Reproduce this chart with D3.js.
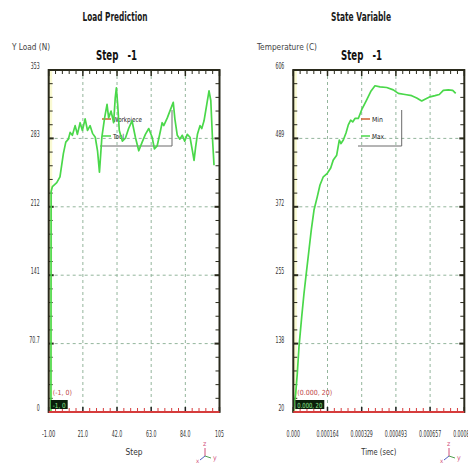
<!DOCTYPE html>
<html>
<head>
<meta charset="utf-8">
<script src="https://cdn.jsdelivr.net/npm/d3@7"></script>
<style>
  body { margin: 0; background: #fff; }
  text { font-family: "Liberation Sans Narrow", "DejaVu Sans Condensed", "Arial Narrow", "Liberation Sans", sans-serif; }
</style>
</head>
<body>
<script>
// Data ----------------------------------------------
// Load Prediction panel
const loadXTicks = [-1, 20.2, 41.4, 62.6, 83.8, 105];
const loadXLabels = ["-1.00", "21.0", "42.0", "63.0", "84.0", "105"];
const loadYTicks = [0, 70.7, 141.4, 212.1, 282.8, 353.5];
const loadYLabels = ["0", "70.7", "141", "212", "283", "353"];

const toolStep = [0.4, 0.5, 1.3, 4.0, 6.0, 8.1, 9.6, 11.2, 12.3, 13.7, 15.4, 16.8, 18.5, 19.9, 21.6, 23.1,
  24.7, 26.2, 27.9, 29.3, 30.5, 32.0, 33.7, 35.2, 36.2, 37.7, 39.3, 40.3, 41.0, 41.8, 42.8, 44.7,
  46.6, 48.6, 50.7, 52.8, 54.9, 57.0, 59.0, 61.1, 63.2, 64.6, 66.3, 68.4, 69.4, 70.4, 72.6, 74.2,
  76.3, 77.3, 78.8, 80.4, 81.9, 83.4, 85.0, 86.7, 88.2, 89.2, 90.2, 91.3, 92.9, 94.0, 95.4, 97.1,
  98.5, 99.6, 100.6, 101.6];
const toolLoad = [0, 228, 233, 237, 243, 267, 279, 282, 289, 286, 296, 287, 299, 291, 303, 291,
  296, 288, 284, 270, 248, 284, 304, 318, 304, 311, 299, 325, 335, 318, 291, 280,
  283, 293, 301, 284, 270, 279, 287, 293, 284, 272, 275, 291, 299, 296, 304, 311,
  320, 303, 286, 282, 286, 280, 287, 284, 270, 260, 274, 287, 296, 293, 301, 318,
  332, 322, 284, 255];
const workpieceStep = [-1, 105];
const workpieceLoad = [0, 0];

// State Variable panel
const timeXTicks = [0, 0.0001644, 0.0003288, 0.0004932, 0.0006576, 0.000822];
const timeXLabels = ["0.000", "0.000164", "0.000329", "0.000493", "0.000657", "0.000822"];
const tempYTicks = [20, 137.2, 254.4, 371.6, 488.8, 606];
const tempYLabels = ["20", "138", "255", "372", "489", "606"];

const maxTime = [0, 0.0000115, 0.0000192, 0.0000274, 0.0000404, 0.0000514, 0.0000625, 0.0000755,
  0.0000865, 0.0000995, 0.0001154, 0.0001283, 0.0001442, 0.0001634, 0.0001798, 0.0001923,
  0.0002086, 0.0002211, 0.0002293, 0.0002404, 0.0002533, 0.0002644, 0.0002759, 0.0002855,
  0.0002966, 0.0003125, 0.0003288, 0.0003528, 0.0003721, 0.0003927, 0.0004168, 0.0004490,
  0.0004807, 0.0005047, 0.0005369, 0.0005692, 0.0005932, 0.0006172, 0.0006331, 0.0006571,
  0.0006812, 0.0007018, 0.0007211, 0.0007451, 0.0007662, 0.0007807];
const maxTemp = [20, 52, 86, 132, 183, 223, 258, 298, 332, 366, 389, 409, 423, 429, 438, 452,
  460, 486, 480, 486, 498, 512, 520, 517, 523, 523, 538, 555, 569, 579, 577, 576,
  572, 566, 564, 562, 558, 553, 556, 560, 562, 564, 571, 572, 571, 566];
const minTime = [0, 0.000822];
const minTemp = [20, 20];

// Constants ----------------------------------------------
const width = 468;
const height = 463;
const lineGreen = "#4ad84a";
const lineRed = "#d63c3c";
const gridColor = "#93b59c";
const frameColor = "#2a2a1c";
const charW = 2.95;   // squeezed width per tick-label character

const svg = d3.select("body").append("svg")
  .attr("width", width)
  .attr("height", height);

svg.append("rect").attr("width", width).attr("height", height).attr("fill", "#fff");

// width of a narrow label, dots count for less
function labelWidth(s) {
  return [...s].reduce((w, c) => w + (c === "." ? 1.6 : charW), 0);
}

// Functions ----------------------------------------------
function drawPanel(p) {
  const g = svg.append("g");
  const x = d3.scaleLinear().domain(p.xDomain).range(p.xRange);
  const y = d3.scaleLinear().domain(p.yDomain).range(p.yRange);
  const [left, right] = p.xRange;
  const [bottom, top] = p.yRange;

  // titles
  g.append("text")
    .attr("x", p.titleX).attr("y", 21)
    .attr("text-anchor", "middle")
    .attr("font-size", 12.5).attr("font-weight", "bold")
    .attr("textLength", p.titleWidth).attr("lengthAdjust", "spacingAndGlyphs")
    .attr("fill", "#1a1a1a")
    .text(p.title);

  g.append("text")
    .attr("x", p.yTitleX).attr("y", 50)
    .attr("font-size", 8.5)
    .attr("textLength", p.yTitleWidth).attr("lengthAdjust", "spacingAndGlyphs")
    .attr("fill", "#444")
    .text(p.yTitle);

  g.append("text")
    .attr("x", p.stepX).attr("y", 60)
    .attr("font-size", 14).attr("font-weight", "bold")
    .attr("textLength", 41).attr("lengthAdjust", "spacingAndGlyphs")
    .attr("fill", "#111")
    .attr("xml:space", "preserve")
    .text("Step   -1");

  // faint yellow strip inside the left edge
  g.append("rect")
    .attr("x", left).attr("y", top)
    .attr("width", 3.5).attr("height", bottom - top)
    .attr("fill", "#fafad2");

  // grid
  g.append("g").selectAll("line")
    .data(p.xTicks.slice(1, -1))
    .join("line")
    .attr("x1", d => x(d)).attr("x2", d => x(d))
    .attr("y1", top).attr("y2", bottom)
    .attr("stroke", gridColor).attr("stroke-width", 1)
    .attr("stroke-dasharray", "3,3");

  g.append("g").selectAll("line")
    .data(p.yTicks.slice(1, -1))
    .join("line")
    .attr("x1", left).attr("x2", right)
    .attr("y1", d => y(d)).attr("y2", d => y(d))
    .attr("stroke", gridColor).attr("stroke-width", 1)
    .attr("stroke-dasharray", "3,3");

  // minor ticks (5 subdivisions between majors)
  const minorX = [];
  for (let i = 0; i < p.xTicks.length - 1; i++) {
    for (let k = 1; k < 5; k++) minorX.push(p.xTicks[i] + (p.xTicks[i + 1] - p.xTicks[i]) * k / 5);
  }
  const minorY = [];
  for (let i = 0; i < p.yTicks.length - 1; i++) {
    for (let k = 1; k < 5; k++) minorY.push(p.yTicks[i] + (p.yTicks[i + 1] - p.yTicks[i]) * k / 5);
  }

  const ticks = g.append("g");
  // top ticks
  ticks.selectAll(".tt").data(minorX).join("line")
    .attr("x1", d => x(d)).attr("x2", d => x(d))
    .attr("y1", top).attr("y2", top + 4)
    .attr("stroke", frameColor).attr("stroke-width", 1);
  ticks.selectAll(".ttm").data(p.xTicks).join("line")
    .attr("x1", d => x(d)).attr("x2", d => x(d))
    .attr("y1", top).attr("y2", top + 6)
    .attr("stroke", frameColor).attr("stroke-width", 1.5);
  // bottom ticks
  ticks.selectAll(".bt").data(minorX).join("line")
    .attr("x1", d => x(d)).attr("x2", d => x(d))
    .attr("y1", bottom).attr("y2", bottom - 4)
    .attr("stroke", lineRed).attr("stroke-width", 1);
  ticks.selectAll(".btm").data(p.xTicks).join("line")
    .attr("x1", d => x(d)).attr("x2", d => x(d))
    .attr("y1", bottom).attr("y2", bottom - 5)
    .attr("stroke", "#222").attr("stroke-width", 1.5);
  // left ticks
  ticks.selectAll(".lt").data(minorY).join("line")
    .attr("x1", left).attr("x2", left + 4)
    .attr("y1", d => y(d)).attr("y2", d => y(d))
    .attr("stroke", frameColor).attr("stroke-width", 1);
  ticks.selectAll(".ltm").data(p.yTicks).join("line")
    .attr("x1", left).attr("x2", left + 5)
    .attr("y1", d => y(d)).attr("y2", d => y(d))
    .attr("stroke", frameColor).attr("stroke-width", 2);
  // right ticks
  ticks.selectAll(".rt").data(minorY).join("line")
    .attr("x1", right).attr("x2", right - 4)
    .attr("y1", d => y(d)).attr("y2", d => y(d))
    .attr("stroke", frameColor).attr("stroke-width", 1);
  ticks.selectAll(".rtm").data(p.yTicks).join("line")
    .attr("x1", right).attr("x2", right - 5)
    .attr("y1", d => y(d)).attr("y2", d => y(d))
    .attr("stroke", frameColor).attr("stroke-width", 2);

  // legend (bottom and right border only)
  const lg = g.append("g");
  lg.append("polyline")
    .attr("points", `${p.legend.x0},${p.legend.y1} ${p.legend.x1},${p.legend.y1} ${p.legend.x1},${p.legend.y0}`)
    .attr("fill", "none").attr("stroke", "#6a6a6a").attr("stroke-width", 1);
  p.legend.items.forEach((it, i) => {
    const ly = p.legend.y0 + 9 + i * 17;
    lg.append("line")
      .attr("x1", p.legend.sx).attr("x2", p.legend.sx + 9)
      .attr("y1", ly).attr("y2", ly)
      .attr("stroke", it.color).attr("stroke-width", 1.5);
    lg.append("text")
      .attr("x", p.legend.sx + 11).attr("y", ly + 2.5)
      .attr("font-size", 7).attr("fill", "#222")
      .attr("textLength", it.w).attr("lengthAdjust", "spacingAndGlyphs")
      .text(it.name);
  });

  // series
  const line = d3.line().x(d => x(d[0])).y(d => y(d[1]));
  p.series.forEach(s => {
    g.append("path")
      .datum(d3.zip(s.xs, s.ys))
      .attr("fill", "none")
      .attr("stroke", s.color)
      .attr("stroke-width", s.width)
      .attr("stroke-linejoin", "round")
      .attr("d", line);
  });

  // frame
  g.append("rect")
    .attr("x", left).attr("y", top)
    .attr("width", right - left).attr("height", bottom - top)
    .attr("fill", "none").attr("stroke", frameColor).attr("stroke-width", 2);

  // bottom series drawn over the frame (red axis line)
  g.append("path")
    .datum(d3.zip(p.baseSeries.xs, p.baseSeries.ys))
    .attr("fill", "none")
    .attr("stroke", lineRed)
    .attr("stroke-width", 2)
    .attr("d", line);

  // tick labels
  g.append("g").selectAll("text")
    .data(p.yTicks)
    .join("text")
    .attr("x", left - 9)
    .attr("y", d => y(d) - 1)
    .attr("text-anchor", "end")
    .attr("font-size", 8)
    .attr("fill", "#333")
    .attr("textLength", (d, i) => labelWidth(p.yLabels[i]))
    .attr("lengthAdjust", "spacingAndGlyphs")
    .text((d, i) => p.yLabels[i]);

  g.append("g").selectAll("text")
    .data(p.xTicks)
    .join("text")
    .attr("x", d => x(d))
    .attr("y", 437)
    .attr("text-anchor", "middle")
    .attr("font-size", 8)
    .attr("fill", "#333")
    .attr("textLength", (d, i) => labelWidth(p.xLabels[i]))
    .attr("lengthAdjust", "spacingAndGlyphs")
    .text((d, i) => p.xLabels[i]);

  g.append("text")
    .attr("x", (left + right) / 2).attr("y", 455)
    .attr("text-anchor", "middle")
    .attr("font-size", 9).attr("fill", "#333")
    .attr("textLength", p.xTitleWidth).attr("lengthAdjust", "spacingAndGlyphs")
    .text(p.xTitle);

  // coordinate read-out at origin
  g.append("text")
    .attr("x", left + 4).attr("y", 395)
    .attr("font-size", 7).attr("fill", "#c04848")
    .text(p.readout.label);
  g.append("rect")
    .attr("x", left + 2).attr("y", 400)
    .attr("width", p.readout.w).attr("height", 9)
    .attr("fill", "#0b1f0b");
  g.append("text")
    .attr("x", left + 4).attr("y", 407.5)
    .attr("font-size", 7).attr("fill", "#8ee68e")
    .attr("textLength", p.readout.w - 4).attr("lengthAdjust", "spacingAndGlyphs")
    .text(p.readout.value);

  // axis triad
  const tx = p.triadX, ty = 456;
  const tri = g.append("g").attr("stroke", "#d2507a").attr("stroke-width", 1);
  tri.append("line").attr("x1", tx).attr("y1", ty).attr("x2", tx).attr("y2", ty - 8);
  tri.append("line").attr("x1", tx).attr("y1", ty).attr("x2", tx + 6).attr("y2", ty + 2).attr("stroke", "#50a050");
  tri.append("line").attr("x1", tx).attr("y1", ty).attr("x2", tx - 5).attr("y2", ty + 4).attr("stroke", "#5060c0");
  g.append("text").attr("x", tx - 2).attr("y", ty - 10).attr("font-size", 7).attr("fill", "#d2507a").text("z");
  g.append("text").attr("x", tx + 8).attr("y", ty + 4).attr("font-size", 7).attr("fill", "#d2507a").text("y");
  g.append("text").attr("x", tx - 9).attr("y", ty + 7).attr("font-size", 6).attr("fill", "#d2507a").text("x");
}

// Panels ----------------------------------------------
drawPanel({
  title: "Load Prediction", titleX: 115, titleWidth: 65,
  yTitle: "Y Load (N)", yTitleX: 12, yTitleWidth: 38,
  stepX: 96,
  xTitle: "Step", xTitleWidth: 17,
  xDomain: [-1, 105], xRange: [48.7, 219.5],
  yDomain: [0, 353.5], yRange: [412, 70],
  xTicks: loadXTicks, xLabels: loadXLabels,
  yTicks: loadYTicks, yLabels: loadYLabels,
  series: [{xs: toolStep, ys: toolLoad, color: lineGreen, width: 1.7}],
  baseSeries: {xs: workpieceStep, ys: workpieceLoad},
  legend: {x0: 100, x1: 172, y0: 110, y1: 146, sx: 102,
    items: [{name: "Workpiece", color: "#d06030", w: 29}, {name: "Tool", color: lineGreen, w: 11}]},
  readout: {label: "(-1, 0)", value: "-1, 0", w: 17},
  triadX: 205
});

drawPanel({
  title: "State Variable", titleX: 361, titleWidth: 60,
  yTitle: "Temperature (C)", yTitleX: 257, yTitleWidth: 60,
  stepX: 341,
  xTitle: "Time (sec)", xTitleWidth: 35,
  xDomain: [0, 0.000822], xRange: [293.3, 464.3],
  yDomain: [20, 606], yRange: [412, 70],
  xTicks: timeXTicks, xLabels: timeXLabels,
  yTicks: tempYTicks, yLabels: tempYLabels,
  series: [{xs: maxTime, ys: maxTemp, color: lineGreen, width: 1.7}],
  baseSeries: {xs: minTime, ys: minTemp},
  legend: {x0: 358, x1: 401.7, y0: 110, y1: 146, sx: 361,
    items: [{name: "Min", color: "#d06030", w: 11}, {name: "Max", color: lineGreen, w: 12}]},
  readout: {label: "(0.000, 20)", value: "0.000, 20", w: 29},
  triadX: 449
});
</script>
</body>
</html>
